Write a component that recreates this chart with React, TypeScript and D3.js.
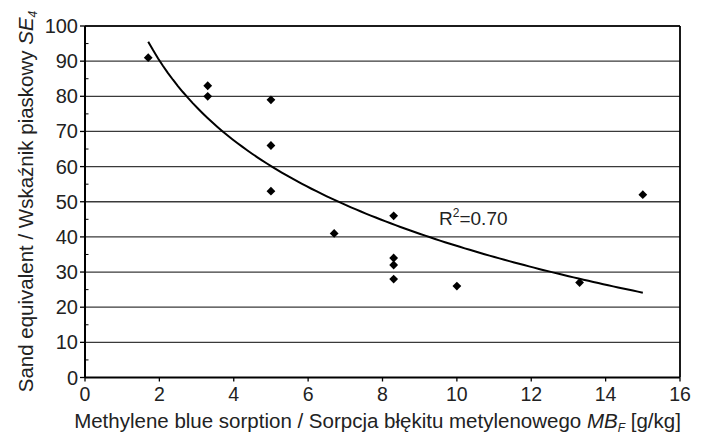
import React from "react";
import * as d3 from "d3";

const xValues = [1.7, 3.3, 3.3, 5, 5, 5, 6.7, 8.3, 8.3, 8.3, 8.3, 10, 13.3, 15];
const yValues = [91, 83, 80, 79, 66, 53, 41, 46, 34, 32, 28, 26, 27, 52];
const xTicks = [0, 2, 4, 6, 8, 10, 12, 14, 16];
const yTicks = [0, 10, 20, 30, 40, 50, 60, 70, 80, 90, 100];
const yMinorTicks = [5, 15, 25, 35, 45, 55, 65, 75, 85, 95];
const r2Label = "0.70";

const W = 702;
const H = 434;
const left = 85;
const right = 680;
const top = 26;
const bottom = 377.5;

export default function App() {
  const x = d3.scaleLinear().domain([0, 16]).range([left, right]);
  const y = d3.scaleLinear().domain([0, 100]).range([bottom, top]);

  // logarithmic least-squares trendline y = a*ln(x) + b
  const lx = xValues.map((v) => Math.log(v));
  const mx = d3.mean(lx) as number;
  const my = d3.mean(yValues) as number;
  let sxy = 0;
  let sxx = 0;
  lx.forEach((v, i) => {
    sxy += (v - mx) * (yValues[i] - my);
    sxx += (v - mx) * (v - mx);
  });
  const a = sxy / sxx;
  const b = my - a * mx;
  const xmin = d3.min(xValues) as number;
  const xmax = d3.max(xValues) as number;
  const curvePts: [number, number][] = d3
    .range(0, 101)
    .map((i) => xmin + ((xmax - xmin) * i) / 100)
    .map((v) => [v, a * Math.log(v) + b]);
  const line = d3
    .line<[number, number]>()
    .x((d) => x(d[0]))
    .y((d) => y(d[1]));

  const ds = 4.4;
  const diamond = `M0,${-ds}L${ds},0L0,${ds}L${-ds},0Z`;
  const font = "'Liberation Sans', Arial, sans-serif";

  return (
    <svg
      width={W}
      height={H}
      style={{ position: "absolute", left: 0, top: 0, background: "#fff" }}
      fontFamily={font}
    >
      {/* gridlines */}
      {yTicks.slice(1).map((t) => (
        <line
          key={"g" + t}
          x1={left}
          x2={right}
          y1={y(t)}
          y2={y(t)}
          stroke="#3a3a3a"
          strokeWidth={1.3}
        />
      ))}
      {/* frame top/right */}
      <line x1={left} x2={right} y1={y(100)} y2={y(100)} stroke="#000" strokeWidth={1.5} />
      <line x1={right} x2={right} y1={y(100)} y2={y(0)} stroke="#000" strokeWidth={1.8} />
      {/* y minor ticks inside */}
      {yMinorTicks.map((t) => (
        <line key={"m" + t} x1={left} x2={left + 3.5} y1={y(t)} y2={y(t)} stroke="#000" strokeWidth={1} />
      ))}
      {/* y major ticks */}
      {yTicks.map((t) => (
        <line key={"yt" + t} x1={left - 5} x2={left} y1={y(t)} y2={y(t)} stroke="#000" strokeWidth={1.3} />
      ))}
      {/* x ticks */}
      {xTicks.map((t) => (
        <line key={"xt" + t} x1={x(t)} x2={x(t)} y1={y(0)} y2={y(0) + 4} stroke="#000" strokeWidth={1.3} />
      ))}
      {/* axes */}
      <line x1={left} x2={left} y1={y(100)} y2={y(0)} stroke="#000" strokeWidth={2} />
      <line x1={left} x2={right} y1={y(0)} y2={y(0)} stroke="#000" strokeWidth={2} />
      {/* y tick labels */}
      {yTicks.map((t) => (
        <text key={"yl" + t} x={left - 7} y={y(t) + 7} textAnchor="end" fontSize={20} fill="#222">
          {t}
        </text>
      ))}
      {/* x tick labels */}
      {xTicks.map((t) => (
        <text key={"xl" + t} x={x(t)} y={400.5} textAnchor="middle" fontSize={19.5} fill="#222">
          {t}
        </text>
      ))}
      {/* trendline */}
      <path d={line(curvePts) as string} fill="none" stroke="#000" strokeWidth={2} />
      {/* points */}
      {xValues.map((v, i) => (
        <path key={"p" + i} d={diamond} transform={`translate(${x(v)},${y(yValues[i])})`} fill="#000" />
      ))}
      {/* R2 label */}
      <text x={439} y={225} fontSize={19} fill="#222">
        R<tspan dy={-8} fontSize={12}>2</tspan>
        <tspan dy={8}>={r2Label}</tspan>
      </text>
      {/* x axis title */}
      <text x={377.5} y={428.3} textAnchor="middle" fontSize={20.5} fill="#222">
        Methylene blue sorption / Sorpcja błękitu metylenowego{" "}
        <tspan fontStyle="italic">MB</tspan>
        <tspan fontStyle="italic" fontSize={12} dy={4}>F</tspan>
        <tspan dy={-4}> [g/kg]</tspan>
      </text>
      {/* y axis title */}
      <text
        transform={`translate(32.5,201.5) rotate(-90)`}
        textAnchor="middle"
        fontSize={20.5}
        fill="#222"
      >
        Sand equivalent / Wskaźnik piaskowy{" "}
        <tspan fontStyle="italic">SE</tspan>
        <tspan fontStyle="italic" fontSize={12} dy={4}>4</tspan>
      </text>
    </svg>
  );
}
